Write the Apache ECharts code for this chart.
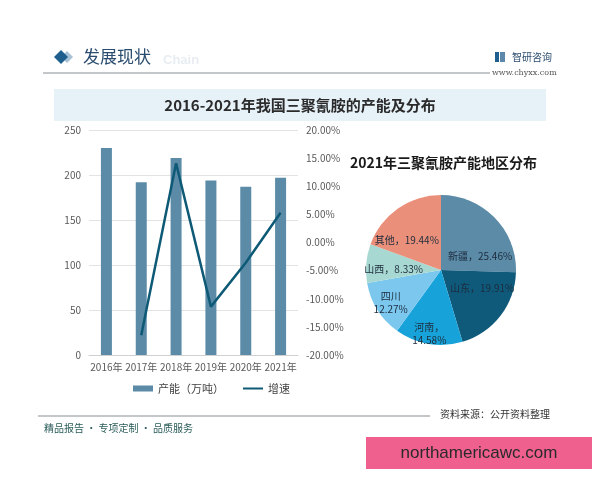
<!DOCTYPE html>
<html><head><meta charset="utf-8">
<script src="https://cdn.jsdelivr.net/npm/echarts@6/dist/echarts.min.js"></script>
<style>html,body{margin:0;padding:0;background:#fff}#c{width:600px;height:480px}</style>
</head><body><div id="c"></div>
<script>
const years = ['2016年','2017年','2018年','2019年','2020年','2021年'];
const capacity = [230, 192, 219, 194, 187, 197];
const growth = [null, -16.5, 14.1, -11.4, -3.6, 5.3];
const regions = ['新疆','山东','河南','四川','山西','其他'];
const shares = [25.46, 19.91, 14.58, 12.27, 8.33, 19.44];
const regionColors = ['#5b8ba7','#0f5a7b','#17a3d9','#7bc7ee','#a8d8d2','#ea8f79'];
const labelFormats = ['{b}，{c}%','{b}，{c}%','{b}，\n{c}%','{b}\n{c}%','{b}，{c}%','{b}，{c}%'];
const labelShift = [[10,14],[9,-6],[-5,24],[-16,11],[-7,3],[-11,3]];

const chart = echarts.init(document.getElementById('c'));
const CJK = '"Noto Sans CJK SC", sans-serif';
chart.setOption({
  backgroundColor: '#ffffff',
  animation: false,
  textStyle: { fontFamily: CJK },
  title: [
    { text: '2016-2021年我国三聚氰胺的产能及分布', left: 'center', top: 93,
      textStyle: { fontSize: 15, fontWeight: 'bold', color: '#2b2b2b', fontFamily: CJK } },
    { text: '2021年三聚氰胺产能地区分布', left: 345, top: 151,
      textStyle: { fontSize: 14, fontWeight: 'bold', color: '#1a1a1a', fontFamily: CJK } }
  ],
  graphic: [
    { type: 'rect', shape: { x: 54, y: 89, width: 492, height: 32 }, style: { fill: '#e7f1f8' }, z: -1 },
    { type: 'polygon', shape: { points: [[67,51],[73,57],[67,63],[61,57]] }, style: { fill: '#a7c2d6' } },
    { type: 'polygon', shape: { points: [[61,50],[68,57],[61,64],[54,57]] }, style: { fill: '#1e5f8e' } },
    { type: 'text', style: { x: 83, y: 57, text: '发展现状', font: '17px "Noto Sans CJK SC"', fill: '#2a4c6e', verticalAlign: 'middle' } },
    { type: 'text', style: { x: 163, y: 60, text: 'Chain', font: 'bold 13px "Liberation Sans"', fill: '#e8edf2', verticalAlign: 'middle' } },
    { type: 'line', shape: { x1: 43, y1: 73, x2: 490, y2: 73 }, style: { stroke: '#8a8f94', lineWidth: 1.2 } },
    { type: 'rect', shape: { x: 495, y: 52, width: 4, height: 10 }, style: { fill: '#1e5f8e' } },
    { type: 'rect', shape: { x: 500, y: 52, width: 5, height: 10 }, style: { fill: '#5d88aa' } },
    { type: 'text', style: { x: 512, y: 57, text: '智研咨询', font: '10px "Noto Sans CJK SC"', fill: '#2a4c6e', verticalAlign: 'middle' } },
    { type: 'text', style: { x: 492, y: 73, text: 'www.chyxx.com', font: '8px "DejaVu Serif"', fill: '#555', verticalAlign: 'middle' } },
    { type: 'line', shape: { x1: 38, y1: 416, x2: 430, y2: 416 }, style: { stroke: '#8a8f94', lineWidth: 1.2 } },
    { type: 'text', style: { x: 440, y: 414, text: '资料来源：公开资料整理', font: '10px "Noto Sans CJK SC"', fill: '#333', verticalAlign: 'middle' } },
    { type: 'text', style: { x: 44, y: 428, text: '精品报告 · 专项定制 · 品质服务', font: '10px "Noto Sans CJK SC"', fill: '#2b5d5a', verticalAlign: 'middle' } },
    { type: 'rect', shape: { x: 366, y: 437, width: 226, height: 32 }, style: { fill: '#f0608e' } },
    { type: 'text', style: { x: 479, y: 453, text: 'northamericawc.com', font: '17px "Liberation Sans"', fill: '#2a2a2a', align: 'center', verticalAlign: 'middle' } }
  ],
  legend: {
    top: 378, left: 128, itemGap: 18, itemWidth: 20, itemHeight: 6,
    textStyle: { fontSize: 11, color: '#444' },
    data: [
      { name: '产能（万吨）', icon: 'rect' },
      { name: '增速', itemStyle: { opacity: 0 } }
    ]
  },
  grid: { left: 89, right: 302, top: 130, bottom: 125 },
  xAxis: {
    type: 'category', data: years,
    axisLine: { lineStyle: { color: '#d0d0d0' } },
    axisTick: { show: false },
    axisLabel: { color: '#595959', fontSize: 10, margin: 7, interval: 0 }
  },
  yAxis: [
    { type: 'value', min: 0, max: 250, interval: 50,
      axisLine: { show: false }, axisTick: { show: false },
      axisLabel: { color: '#595959', fontSize: 10, margin: 8 },
      splitLine: { lineStyle: { color: '#e3e3e3' } } },
    { type: 'value', min: -20, max: 20, interval: 5,
      axisLine: { show: false }, axisTick: { show: false },
      axisLabel: { color: '#595959', fontSize: 10, margin: 8, formatter: v => v.toFixed(2) + '%' },
      splitLine: { show: false } }
  ],
  series: [
    { name: '产能（万吨）', type: 'bar', data: capacity, barWidth: 11,
      itemStyle: { color: '#5b8ba7' } },
    { name: '增速', type: 'line', yAxisIndex: 1, data: growth, showSymbol: false, symbol: 'none',
      lineStyle: { color: '#0e5a76', width: 2.5 }, itemStyle: { color: '#0e5a76' } },
    { name: '地区分布', type: 'pie', center: [441, 270], radius: 75, startAngle: 90, clockwise: true,
      data: regions.map((n, i) => ({ name: n, value: shares[i], itemStyle: { color: regionColors[i] },
        label: { formatter: labelFormats[i] } })),
      label: { position: 'inside', fontSize: 10, color: '#1d2b3d', lineHeight: 13 },
      labelLine: { show: false },
      labelLayout: p => ({ dx: labelShift[p.dataIndex][0], dy: labelShift[p.dataIndex][1], hideOverlap: false }),
      itemStyle: { borderWidth: 0 } }
  ]
});
</script></body></html>
